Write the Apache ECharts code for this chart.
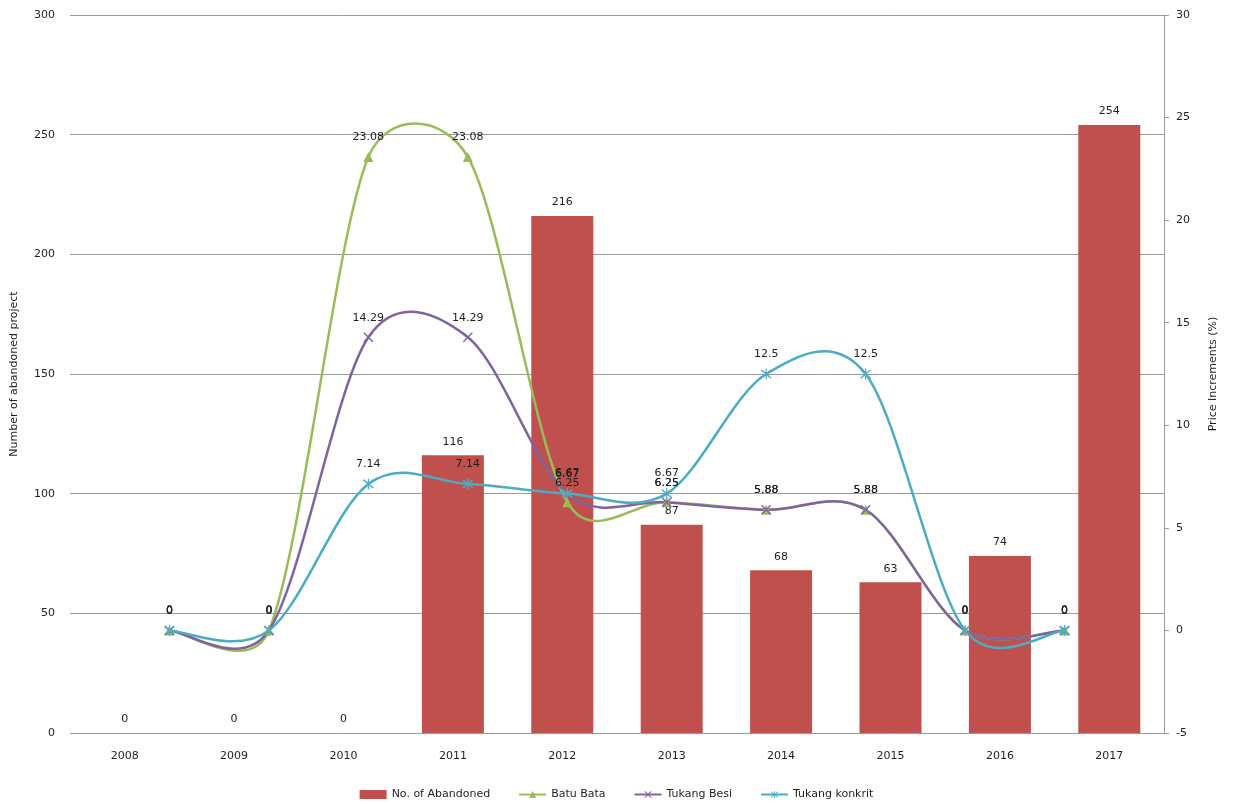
<!DOCTYPE html>
<html>
<head>
<meta charset="utf-8">
<script src="https://cdn.jsdelivr.net/npm/echarts@6/dist/echarts.min.js"></script>
<style>
  html, body { margin: 0; padding: 0; background: #ffffff; }
  #chart { width: 1233px; height: 804px; }
</style>
</head>
<body>
<div id="chart"></div>
<script>
// Abandoned projects per year and yearly price increments of building trades
const years = ['2008', '2009', '2010', '2011', '2012', '2013', '2014', '2015', '2016', '2017'];
const abandoned = [0, 0, 0, 116, 216, 87, 68, 63, 74, 254];
const batuBata = [0, 0, 23.08, 23.08, 6.25, 6.25, 5.88, 5.88, 0, 0];
const tukangBesi = [0, 0, 14.29, 14.29, 6.67, 6.25, 5.88, 5.88, 0, 0];
const tukangKonkrit = [0, 0, 7.14, 7.14, 6.67, 6.67, 12.5, 12.5, 0, 0];

const countAxis = { min: 0, max: 300, interval: 50 };
const percentAxis = { min: -5, max: 30, interval: 5 };

// The trend lines sit on their own evenly spaced track (slots 1..10 of 0..11)
const toTrack = arr => arr.map((v, i) => [i + 1, v]);

const FONT = 'DejaVu Sans';
const TEXT = '#1f1f1f';

// Filled outlines for the cross and asterisk markers
const crossPath = 'path://M1,0L5,4L9,0L10,1L6,5L10,9L9,10L5,6L1,10L0,9L4,5L0,1Z';
const starPath = 'path://M1,0L5,4L9,0L10,1L6,5L10,9L9,10L5,6L1,10L0,9L4,5L0,1Z' +
                 'M4.45,-1L5.55,-1L5.55,11L4.45,11Z';

// Bezier handles at point p: tangent along (next - prev), handle length one sixth
// of that chord, but never more than half of the adjoining segment.
function controlPoints(prev, p, next) {
  const vx = next[0] - prev[0];
  const vy = next[1] - prev[1];
  const len = Math.hypot(vx, vy);
  if (len === 0) return { before: p.slice(), after: p.slice() };
  const ux = vx / len, uy = vy / len;
  const segPrev = Math.hypot(p[0] - prev[0], p[1] - prev[1]);
  const segNext = Math.hypot(next[0] - p[0], next[1] - p[1]);
  const dBefore = Math.min(len / 6, segPrev / 2);
  const dAfter = Math.min(len / 6, segNext / 2);
  return {
    before: [p[0] - ux * dBefore, p[1] - uy * dBefore],
    after: [p[0] + ux * dAfter, p[1] + uy * dAfter]
  };
}

// Draws the smoothed path of a series one segment per data item, using the axis scales
function curveSeries(values, color) {
  const data = toTrack(values);
  return {
    type: 'custom',
    xAxisIndex: 1,
    yAxisIndex: 1,
    silent: true,
    z: 3,
    data: data,
    encode: { x: 0, y: 1 },
    renderItem: function (params, api) {
      const i = params.dataIndex;
      const n = data.length;
      if (i >= n - 1) return null;
      const pts = data.map(d => api.coord(d));
      const get = k => pts[Math.max(0, Math.min(n - 1, k))];
      const c0 = controlPoints(get(i - 1), get(i), get(i + 1));
      const c1 = controlPoints(get(i), get(i + 1), get(i + 2));
      const a = get(i), b = get(i + 1);
      return {
        type: 'bezierCurve',
        shape: {
          x1: a[0], y1: a[1], x2: b[0], y2: b[1],
          cpx1: c0.after[0], cpy1: c0.after[1],
          cpx2: c1.before[0], cpy2: c1.before[1]
        },
        style: { stroke: color, lineWidth: 2.5, fill: null, lineCap: 'round' }
      };
    }
  };
}

// Markers and value labels of a trend series (its path comes from curveSeries)
function markerSeries(name, values, color, symbol, size) {
  return {
    name: name,
    type: 'line',
    xAxisIndex: 1,
    yAxisIndex: 1,
    data: toTrack(values),
    symbol: symbol,
    symbolSize: size,
    showAllSymbol: true,
    lineStyle: { color: color, width: 2.5, opacity: 0 },
    itemStyle: { color: color, borderWidth: 0 },
    label: {
      show: true,
      position: 'top',
      distance: 9,
      color: TEXT,
      fontFamily: FONT,
      fontSize: 11,
      formatter: p => String(p.value[1])
    },
    emphasis: { disabled: true },
    z: 4
  };
}

const chart = echarts.init(document.getElementById('chart'), null, { renderer: 'canvas' });

chart.setOption({
  animation: false,
  backgroundColor: '#ffffff',
  textStyle: { fontFamily: FONT, color: TEXT },
  grid: { left: 70, right: 69, top: 15, bottom: 71, containLabel: false },
  legend: {
    bottom: -1,
    left: 'center',
    itemGap: 28,
    itemWidth: 27,
    itemHeight: 9,
    textStyle: { fontFamily: FONT, fontSize: 11, color: TEXT },
    data: [
      { name: 'No. of Abandoned', icon: 'rect' },
      { name: 'Batu Bata', lineStyle: { color: '#9BBB59', width: 2, opacity: 1 } },
      { name: 'Tukang Besi', lineStyle: { color: '#8064A2', width: 2, opacity: 1 } },
      { name: 'Tukang konkrit', lineStyle: { color: '#4BACC6', width: 2, opacity: 1 } }
    ]
  },
  xAxis: [
    {
      type: 'category',
      data: years,
      boundaryGap: true,
      axisLine: { show: false },
      axisTick: { show: false },
      axisLabel: { margin: 18, fontSize: 11, color: TEXT, fontFamily: FONT }
    },
    {
      type: 'value',
      min: 0,
      max: 11,
      show: false
    }
  ],
  yAxis: [
    {
      type: 'value',
      min: countAxis.min,
      max: countAxis.max,
      interval: countAxis.interval,
      name: 'Number of abandoned project',
      nameLocation: 'middle',
      nameRotate: 90,
      nameGap: 50,
      nameTextStyle: { fontSize: 11, color: TEXT, fontFamily: FONT },
      axisLine: { show: false },
      axisTick: { show: false },
      axisLabel: { margin: 15, fontSize: 11, color: TEXT, fontFamily: FONT },
      splitLine: { show: true, lineStyle: { color: '#9a9a9a', width: 1 } }
    },
    {
      type: 'value',
      position: 'right',
      min: percentAxis.min,
      max: percentAxis.max,
      interval: percentAxis.interval,
      name: 'Price Increments (%)',
      nameLocation: 'middle',
      nameRotate: 90,
      nameGap: 44,
      nameTextStyle: { fontSize: 11, color: TEXT, fontFamily: FONT },
      axisLine: { show: true, lineStyle: { color: '#9a9a9a', width: 1 } },
      axisTick: { show: true, inside: false, length: 5, lineStyle: { color: '#9a9a9a' } },
      axisLabel: { margin: 12, fontSize: 11, color: TEXT, fontFamily: FONT },
      splitLine: { show: false }
    }
  ],
  series: [
    {
      name: 'No. of Abandoned',
      type: 'bar',
      xAxisIndex: 0,
      yAxisIndex: 0,
      data: abandoned,
      barWidth: 62,
      itemStyle: { color: '#C0504D' },
      label: {
        show: true,
        position: 'top',
        distance: 8,
        color: TEXT,
        fontFamily: FONT,
        fontSize: 11
      },
      emphasis: { disabled: true },
      z: 2
    },
    curveSeries(batuBata, '#9BBB59'),
    markerSeries('Batu Bata', batuBata, '#9BBB59', 'triangle', 10),
    curveSeries(tukangBesi, '#8064A2'),
    markerSeries('Tukang Besi', tukangBesi, '#8064A2', crossPath, 10),
    curveSeries(tukangKonkrit, '#4BACC6'),
    markerSeries('Tukang konkrit', tukangKonkrit, '#4BACC6', starPath, 11)
  ]
});
</script>
</body>
</html>
